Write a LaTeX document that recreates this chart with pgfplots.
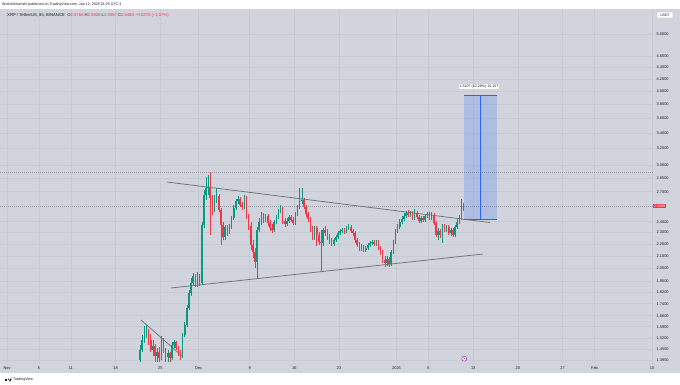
\documentclass[border=0pt]{standalone}
\usepackage{fontspec}
\setmainfont{Liberation Sans}
\usepackage{pgfplots}
\usepackage{pgfplotstable}
\pgfplotsset{compat=1.18}
\definecolor{panel}{RGB}{209,212,220}
\definecolor{gridc}{RGB}{200,203,212}
\definecolor{tvgreen}{RGB}{8,153,129}
\definecolor{tvred}{RGB}{242,54,69}
\definecolor{tvtext}{RGB}{19,23,34}
\definecolor{tvline}{RGB}{110,114,125}
\definecolor{tvdot}{RGB}{150,154,165}
\definecolor{tvblue}{RGB}{41,98,255}
\definecolor{tvpurple}{RGB}{156,39,176}

\pgfplotstableread{
x o h l c
20.83 1.396 1.480 1.385 1.451
21.17 1.451 1.539 1.440 1.509
21.50 1.509 1.595 1.491 1.551
21.83 1.551 1.601 1.521 1.564
22.17 1.564 1.576 1.480 1.509
22.50 1.509 1.545 1.440 1.451
22.83 1.451 1.509 1.417 1.474
23.17 1.474 1.486 1.385 1.417
23.50 1.417 1.462 1.385 1.440
23.83 1.440 1.468 1.385 1.406
24.17 1.406 1.533 1.396 1.509
24.50 1.509 1.521 1.434 1.451
24.83 1.451 1.462 1.385 1.412
25.17 1.412 1.451 1.385 1.434
25.50 1.434 1.440 1.385 1.406
25.83 1.406 1.497 1.396 1.480
26.17 1.480 1.509 1.462 1.497
26.50 1.497 1.503 1.451 1.462
26.83 1.462 1.474 1.417 1.434
27.17 1.434 1.451 1.396 1.417
27.50 1.417 1.551 1.406 1.539
27.83 1.539 1.620 1.527 1.601
28.17 1.601 1.731 1.589 1.711
28.50 1.711 1.836 1.698 1.815
28.83 1.815 1.925 1.794 1.888
29.17 1.888 1.963 1.866 1.940
29.50 1.940 1.956 1.858 1.880
29.83 1.880 1.971 1.858 1.940
30.17 1.940 1.956 1.866 1.888
30.50 1.888 2.397 1.873 2.369
30.83 2.369 2.718 2.341 2.665
31.17 2.665 2.861 2.614 2.740
31.50 2.740 2.883 2.665 2.750
31.83 2.750 2.917 2.278 2.634
32.17 2.634 2.665 2.464 2.533
32.50 2.533 2.665 2.493 2.634
32.83 2.634 2.740 2.583 2.655
33.17 2.655 2.676 2.493 2.513
33.50 2.513 2.533 2.191 2.369
33.83 2.369 2.397 2.234 2.260
34.17 2.260 2.369 2.234 2.351
34.50 2.351 2.369 2.269 2.305
34.83 2.305 2.378 2.287 2.351
35.17 2.351 2.454 2.332 2.435
35.50 2.435 2.563 2.416 2.533
35.83 2.533 2.624 2.513 2.604
36.17 2.604 2.655 2.573 2.624
36.50 2.624 2.645 2.543 2.563
36.83 2.563 2.594 2.513 2.543
37.17 2.543 2.665 2.523 2.634
37.50 2.634 2.655 2.426 2.445
37.83 2.445 2.474 2.323 2.360
38.17 2.360 2.397 2.148 2.191
38.50 2.191 2.234 2.082 2.132
38.83 2.132 2.165 2.002 2.050
39.17 2.050 2.351 1.925 2.323
39.50 2.323 2.435 2.305 2.397
39.83 2.397 2.493 2.369 2.454
40.17 2.454 2.484 2.388 2.416
40.50 2.416 2.474 2.397 2.454
40.83 2.454 2.474 2.360 2.388
41.17 2.388 2.416 2.314 2.341
41.50 2.341 2.378 2.296 2.323
41.83 2.323 2.416 2.305 2.397
42.17 2.397 2.464 2.378 2.445
42.50 2.445 2.523 2.426 2.503
42.83 2.503 2.563 2.484 2.533
43.17 2.533 2.543 2.378 2.407
43.50 2.407 2.435 2.351 2.378
43.83 2.378 2.435 2.360 2.407
44.17 2.407 2.464 2.388 2.445
44.50 2.445 2.464 2.397 2.416
44.83 2.416 2.445 2.369 2.388
45.17 2.388 2.493 2.369 2.474
45.50 2.474 2.563 2.454 2.543
45.83 2.543 2.740 2.523 2.604
46.17 2.604 2.740 2.573 2.614
46.50 2.614 2.634 2.523 2.543
46.83 2.543 2.563 2.445 2.474
47.17 2.474 2.493 2.397 2.426
47.50 2.426 2.445 2.305 2.332
47.83 2.332 2.360 2.234 2.260
48.17 2.260 2.360 2.234 2.341
48.50 2.341 2.360 2.182 2.278
48.83 2.278 2.305 2.191 2.217
49.17 2.217 2.323 1.971 2.208
49.50 2.208 2.341 2.182 2.323
49.83 2.323 2.360 2.269 2.296
50.17 2.296 2.332 2.234 2.260
50.50 2.260 2.287 2.200 2.225
50.83 2.225 2.252 2.182 2.200
51.17 2.200 2.252 2.182 2.234
51.50 2.234 2.278 2.217 2.260
51.83 2.260 2.314 2.243 2.296
52.17 2.296 2.332 2.278 2.314
52.50 2.314 2.341 2.296 2.323
52.83 2.323 2.341 2.287 2.314
53.17 2.314 2.360 2.296 2.341
53.50 2.341 2.378 2.323 2.351
53.83 2.351 2.369 2.296 2.314
54.17 2.314 2.332 2.269 2.296
54.50 2.296 2.314 2.208 2.234
54.83 2.234 2.252 2.174 2.191
55.17 2.191 2.217 2.140 2.157
55.50 2.157 2.200 2.140 2.174
55.83 2.174 2.191 2.132 2.148
56.17 2.148 2.182 2.132 2.165
56.50 2.165 2.208 2.148 2.191
56.83 2.191 2.225 2.174 2.208
57.17 2.208 2.234 2.191 2.217
57.50 2.217 2.234 2.182 2.200
57.83 2.200 2.234 2.182 2.217
58.17 2.217 2.234 2.148 2.165
58.50 2.165 2.182 2.107 2.132
58.83 2.132 2.148 2.042 2.066
59.17 2.066 2.099 2.010 2.042
59.50 2.042 2.099 2.018 2.074
59.83 2.074 2.091 2.010 2.034
60.17 2.034 2.148 2.018 2.132
60.50 2.132 2.234 2.115 2.217
60.83 2.217 2.332 2.200 2.314
61.17 2.314 2.378 2.296 2.351
61.50 2.351 2.426 2.332 2.397
61.83 2.397 2.454 2.378 2.426
62.17 2.426 2.484 2.407 2.454
62.50 2.454 2.503 2.435 2.484
62.83 2.484 2.513 2.445 2.464
63.17 2.464 2.503 2.445 2.484
63.50 2.484 2.503 2.416 2.435
63.83 2.435 2.523 2.416 2.484
64.17 2.484 2.503 2.426 2.445
64.50 2.445 2.464 2.388 2.407
64.83 2.407 2.454 2.388 2.435
65.17 2.435 2.454 2.397 2.416
65.50 2.416 2.474 2.397 2.454
65.83 2.454 2.493 2.435 2.474
66.17 2.474 2.493 2.416 2.435
66.50 2.435 2.493 2.416 2.464
66.83 2.464 2.484 2.369 2.388
67.17 2.388 2.407 2.260 2.278
67.50 2.278 2.341 2.234 2.314
67.83 2.314 2.332 2.252 2.278
68.17 2.278 2.378 2.208 2.360
68.50 2.360 2.378 2.305 2.323
68.83 2.323 2.369 2.305 2.351
69.17 2.351 2.369 2.278 2.296
69.50 2.296 2.341 2.269 2.323
69.83 2.323 2.341 2.260 2.278
70.17 2.278 2.369 2.260 2.351
70.50 2.351 2.426 2.332 2.397
70.83 2.397 2.464 2.378 2.435
71.17 2.435 2.624 2.416 2.5764
71.50 2.5764 2.5835 2.5057 2.5489
}\candles

\begin{document}
\begin{tikzpicture}[x=1pt,y=1pt]
\fill[white] (0,0) rectangle (680,385);
\useasboundingbox (0,0) rectangle (680,385);
\fill[panel] (0,12) rectangle (680,376);
\begin{axis}[
  at={(0pt,21pt)}, anchor=south west, scale only axis,
  width=653pt, height=355pt,
  ymode=log, xmin=-1.1, xmax=101.16, ymin=1.374, ymax=5.528,
  axis line style={draw=none}, major tick length=0pt, minor tick length=0pt,
  /pgf/number format/assume math mode=true,
  xtick={0,5,10,17,24,30,38,45,52,61,66,73,80,87,92,101},
  xticklabels={Nov,6,11,18,25,Dec,9,16,23,2025,6,13,20,27,Feb,10},
  ytick={1.395,1.455,1.52,1.59,1.66,1.74,1.82,1.9,2.0,2.1,2.2,2.3,2.4,2.7,2.85,3.0,3.2,3.4,3.6,3.8,4.0,4.2,4.4,4.6,5.0},
  yticklabels={1.3950,1.4550,1.5200,1.5900,1.6600,1.7400,1.8200,1.9000,2.0000,2.1000,2.2000,2.3000,2.4000,2.7000,2.8500,3.0000,3.2000,3.4000,3.6000,3.8000,4.0000,4.2000,4.4000,4.6000,5.0000},
  minor ytick={}, minor xtick={},
  yticklabel pos=right,
  xmajorgrids, ymajorgrids, major grid style={gridc, line width=0.6pt},
  tick label style={font=\fontsize{3.9}{4.2}\selectfont, text=tvtext},
  yticklabel style={anchor=west, inner sep=0pt, xshift=3.5pt},
  xticklabel style={anchor=center, inner sep=0pt, yshift=-4.5pt},
]
% dotted horizontal lines
\addplot[forget plot, tvdot, line width=0.4pt, dash pattern=on 0.7pt off 1.3pt] coordinates {(-1.1,2.92) (101.16,2.92)};
\addplot[forget plot, tvdot, line width=0.4pt, dash pattern=on 0.7pt off 1.3pt] coordinates {(-1.1,2.5489) (101.16,2.5489)};
% trend lines
\addplot[forget plot, tvline, line width=0.75pt] coordinates {(25.05,2.805) (75.63,2.393)};
\addplot[forget plot, tvline, line width=0.75pt] coordinates {(25.68,1.851) (74.54,2.115)};
\addplot[forget plot, tvline, line width=0.75pt] coordinates {(20.98,1.633) (27.40,1.418)};
% projection box
\addplot[forget plot, draw=none, fill=tvblue, fill opacity=0.2] coordinates {(71.6,2.4253) (76.68,2.4253) (76.68,3.936) (71.6,3.936)} -- cycle;
\addplot[forget plot, tvblue, line width=0.6pt] coordinates {(71.6,2.4253) (76.68,2.4253)};
\addplot[forget plot, tvblue, line width=0.6pt] coordinates {(71.6,3.936) (76.68,3.936)};
\addplot[forget plot, tvblue, line width=0.6pt] coordinates {(74.18,2.4253) (74.18,3.936)};
% candles
\pgfplotstablegetrowsof{\candles}
\pgfmathtruncatemacro{\lastrow}{\pgfplotsretval-1}
\pgfplotsforeachungrouped \r in {0,...,\lastrow}{%
  \pgfplotstablegetelem{\r}{x}\of\candles \let\cx\pgfplotsretval
  \pgfplotstablegetelem{\r}{o}\of\candles \let\co\pgfplotsretval
  \pgfplotstablegetelem{\r}{h}\of\candles \let\ch\pgfplotsretval
  \pgfplotstablegetelem{\r}{l}\of\candles \let\cl\pgfplotsretval
  \pgfplotstablegetelem{\r}{c}\of\candles \let\cc\pgfplotsretval
  \ifdim\cc pt<\co pt \def\ccol{tvred}\else\def\ccol{tvgreen}\fi
  \edef\doplot{%
    \noexpand\addplot[forget plot, draw=\ccol, line width=0.5pt] coordinates {(\cx,\cl) (\cx,\ch)};
    \noexpand\addplot[forget plot, draw=\ccol, line width=1.6pt] coordinates {(\cx,\co) (\cx,\cc)};
  }\doplot
}
\node[fill=white, draw=gridc, rounded corners=1pt, inner sep=1pt, text=tvtext, font=\fontsize{3.6}{4}\selectfont] at (axis cs:73.91,4.08) {1.5107 (62.29\%) 15,107};
\node[circle, draw=tvpurple, fill=white, line width=0.5pt, minimum size=5pt, inner sep=0pt] at (axis cs:71.6,1.403) {};
\node[circle, fill=tvpurple, minimum size=1.6pt, inner sep=0pt] at (axis cs:71.6,1.403) {};
\coordinate (cp) at (axis cs:101.16,2.5489);
\end{axis}
% price label
\node[fill=tvred, text=white, anchor=west, inner sep=0.8pt, font=\fontsize{3.6}{4}\selectfont] at ([xshift=0pt]cp) {2.5489};
% header
\node[anchor=west, inner sep=0pt, text=tvtext, font=\fontsize{3.6}{4}\selectfont] at (2,380.5) {Worldofchartsfx published on TradingView.com, Jan 12, 2025 01:25 UTC-3};
\node[anchor=west, inner sep=0pt, text=tvtext, font=\fontsize{4.2}{4.6}\selectfont] at (7,370) {XRP / TetherUS, 8h, BINANCE\hspace{2.5pt}O\textcolor{tvred}{2.5764} H\textcolor{tvred}{2.5835} L\textcolor{tvred}{2.5057} C\textcolor{tvred}{2.5489 −0.0275 (−1.07\%)}};
% USDT box
\node[fill=white, rounded corners=0.8pt, inner xsep=3pt, inner ysep=1.5pt, text=tvtext, font=\fontsize{3.4}{4}\selectfont] at (665,370) {USDT};
% footer logo
\fill[tvtext] (5,3.6) rectangle (7.4,6.4);
\fill[tvtext] (8.4,5.7) circle (0.7);
\fill[tvtext] (9.0,3.6) -- (10.4,6.4) -- (11.8,6.4) -- (10.4,3.6) -- cycle;
\node[anchor=west, inner sep=0pt, text=tvtext, font=\fontsize{3.6}{4}\selectfont] at (13,5) {TradingView};
\end{tikzpicture}
\end{document}
